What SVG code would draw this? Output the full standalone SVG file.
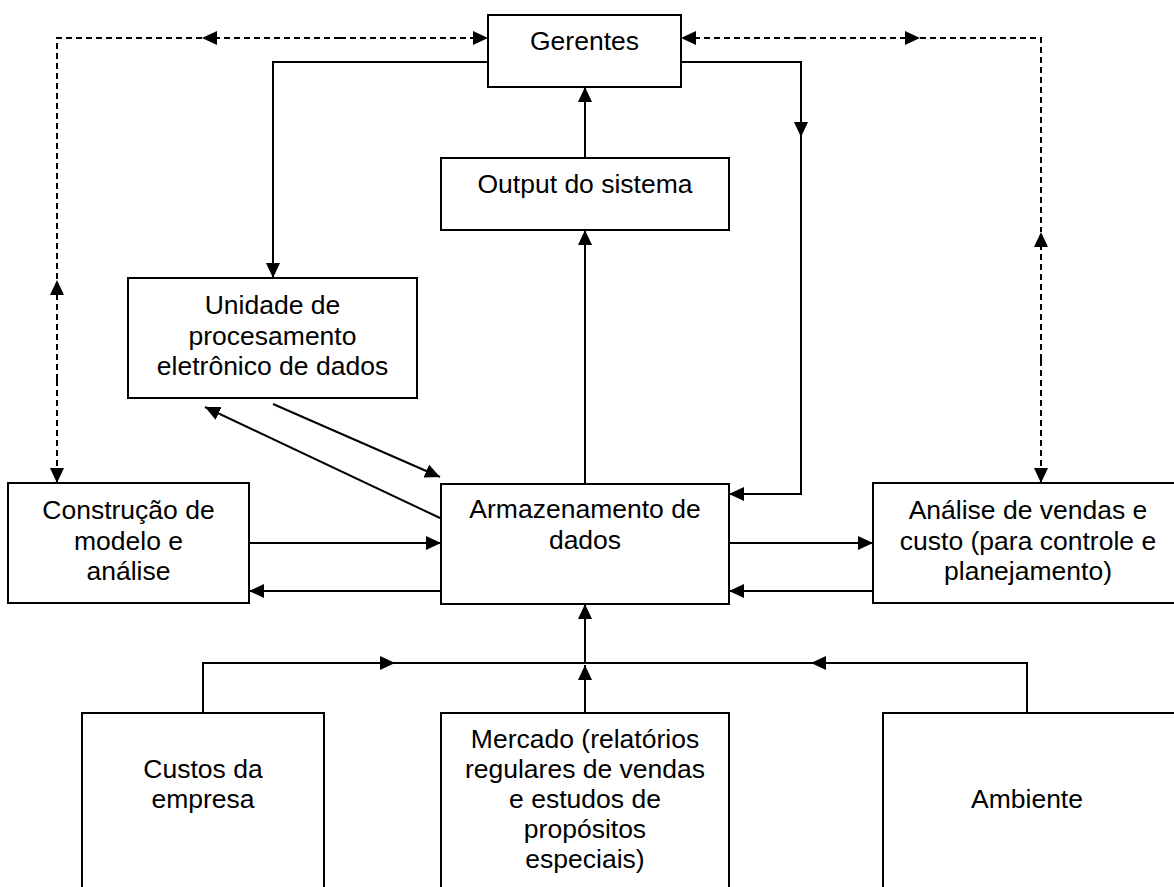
<svg xmlns="http://www.w3.org/2000/svg" width="1174" height="887" viewBox="0 0 1174 887">
<defs>
<style>
.box{fill:#fff;stroke:#000;stroke-width:2}
.t{font-family:"Liberation Sans",Arial,sans-serif;font-size:26.5px;fill:#000;text-anchor:middle}
.c{fill:none;stroke:#000;stroke-width:2}
.d{fill:none;stroke:#000;stroke-width:2;stroke-dasharray:6 4}
.a{marker-end:url(#arr)}
</style>
<marker id="arr" markerUnits="userSpaceOnUse" viewBox="0 0 15 14" markerWidth="15" markerHeight="14" refX="15" refY="7" orient="auto">
<path d="M0,0 L15,7 L0,14 z" fill="#000"/>
</marker>
</defs>
<rect width="1174" height="887" fill="#fff"/>
<g id="connectors">
<path class="d a" d="M340 38 H488"/>
<path class="d a" d="M340 38 H202"/>
<path class="d" d="M202 38 H57 V280"/>
<path class="d a" d="M57 380 V280"/>
<path class="d a" d="M57 380 V483"/>
<path class="d a" d="M800 38 H681"/>
<path class="d a" d="M800 38 H920"/>
<path class="d" d="M920 38 H1041 V232"/>
<path class="d a" d="M1041 360 V232"/>
<path class="d a" d="M1041 360 V483"/>
<path class="c a" d="M488 62 H273 V278"/>
<path class="c a" d="M681 62 H801 V137"/>
<path class="c a" d="M801 137 V494 H729"/>
<path class="c a" d="M585 158 V87"/>
<path class="c a" d="M585 484 V230"/>
<path class="c a" d="M440 518 L205 407"/>
<path class="c a" d="M273 404 L440 477"/>
<path class="c a" d="M249 543 H441"/>
<path class="c a" d="M441 591 H249"/>
<path class="c a" d="M729 543 H873"/>
<path class="c a" d="M873 591 H729"/>
<path class="c a" d="M203 713 V663 H395"/>
<path class="c" d="M395 663 H811"/>
<path class="c a" d="M1027 713 V663 H811"/>
<path class="c a" d="M585 713 V665"/>
<path class="c a" d="M585 663 V604"/>
</g>
<g id="gerentes">
<rect class="box" x="488" y="15" width="193" height="72"/>
<text class="t" x="584.5" y="50">Gerentes</text>
</g>
<g id="output">
<rect class="box" x="441" y="158" width="288" height="72"/>
<text class="t" x="585" y="193">Output do sistema</text>
</g>
<g id="unidade">
<rect class="box" x="128" y="278" width="289" height="120"/>
<text class="t" x="272.5" y="314">Unidade de</text>
<text class="t" x="272.5" y="344.5">procesamento</text>
<text class="t" x="272.5" y="375">eletrônico de dados</text>
</g>
<g id="construcao">
<rect class="box" x="8" y="483" width="241" height="120"/>
<text class="t" x="128.5" y="519">Construção de</text>
<text class="t" x="128.5" y="549.5">modelo e</text>
<text class="t" x="128.5" y="580">análise</text>
</g>
<g id="armazenamento">
<rect class="box" x="441" y="484" width="288" height="120"/>
<text class="t" x="585" y="518">Armazenamento de</text>
<text class="t" x="585" y="549">dados</text>
</g>
<g id="analise">
<rect class="box" x="873" y="483" width="320" height="120"/>
<text class="t" x="1028" y="519">Análise de vendas e</text>
<text class="t" x="1028" y="549.5">custo (para controle e</text>
<text class="t" x="1028" y="580">planejamento)</text>
</g>
<g id="custos">
<rect class="box" x="82" y="713" width="242" height="200"/>
<text class="t" x="203" y="778">Custos da</text>
<text class="t" x="203" y="808">empresa</text>
</g>
<g id="mercado">
<rect class="box" x="441" y="713" width="288" height="200"/>
<text class="t" x="585" y="748">Mercado (relatórios</text>
<text class="t" x="585" y="778">regulares de vendas</text>
<text class="t" x="585" y="808">e estudos de</text>
<text class="t" x="585" y="838">propósitos</text>
<text class="t" x="585" y="868">especiais)</text>
</g>
<g id="ambiente">
<rect class="box" x="883" y="713" width="310" height="200"/>
<text class="t" x="1027" y="808">Ambiente</text>
</g>
</svg>
